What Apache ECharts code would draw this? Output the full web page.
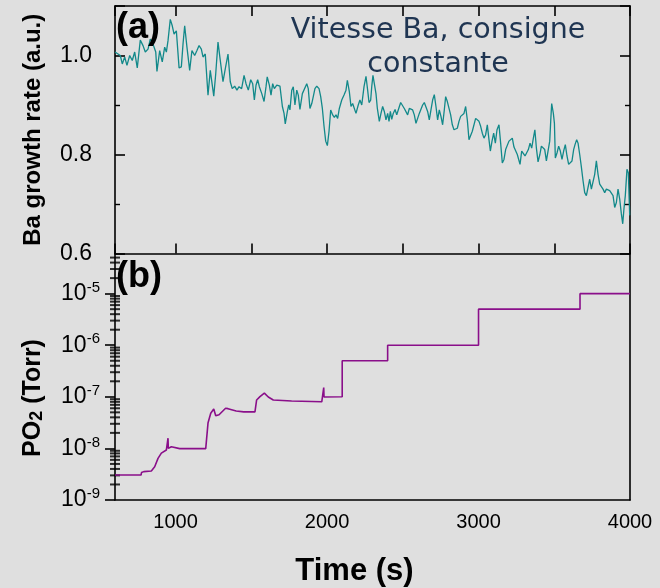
<!DOCTYPE html>
<html>
<head>
<meta charset="utf-8">
<script src="https://cdn.jsdelivr.net/npm/echarts@6/dist/echarts.min.js"></script>
<style>
  html, body { margin: 0; padding: 0; background: #dfdfdf; }
  #chart { width: 660px; height: 588px; }
</style>
</head>
<body>
<div id="chart"></div>
<script>
// Ba growth rate (a.u.) versus time (s)
const growthRate = [
  [600,1.007],[620,1.003],[635,1.0],[648,0.983],[664,0.997],[679,0.98],[697,1.0],[714,0.99],[730,1.007],[747,0.975],
  [767,1.031],[785,1.02],[800,1.007],[818,1.013],[833,1.033],[851,1.023],[869,1.007],[877,0.968],[895,1.01],[912,0.987],
  [928,1.017],[939,1.007],[950,1.03],[965,1.073],[978,1.06],[990,1.043],[1005,1.05],[1023,0.975],[1038,0.977],[1049,1.023],
  [1060,1.06],[1075,1.017],[1093,0.97],[1108,1.01],[1126,1.0],[1141,1.01],[1155,1.02],[1170,1.013],[1181,0.997],[1196,1.003],
  [1214,0.92],[1229,0.97],[1240,0.971],[1252,0.918],[1265,0.963],[1280,1.027],[1295,0.99],[1313,0.947],[1328,0.973],[1346,1.003],
  [1361,0.947],[1374,0.933],[1390,0.938],[1405,0.93],[1419,0.937],[1436,0.933],[1452,0.96],[1465,0.943],[1480,0.93],[1496,0.951],
  [1509,0.943],[1520,0.91],[1531,0.94],[1542,0.951],[1553,0.937],[1569,0.923],[1584,0.907],[1597,0.937],[1605,0.957],[1619,0.94],
  [1630,0.92],[1641,0.943],[1652,0.933],[1668,0.94],[1678,0.937],[1689,0.938],[1705,0.897],[1716,0.883],[1724,0.862],[1738,0.887],
  [1747,0.9],[1755,0.89],[1767,0.93],[1777,0.937],[1788,0.9],[1800,0.93],[1810,0.92],[1821,0.891],[1837,0.923],[1850,0.927],
  [1866,0.943],[1876,0.933],[1887,0.893],[1899,0.903],[1909,0.917],[1920,0.933],[1932,0.938],[1947,0.933],[1958,0.917],[1969,0.893],
  [1980,0.857],[1991,0.827],[2002,0.818],[2013,0.847],[2024,0.89],[2037,0.88],[2048,0.875],[2059,0.88],[2070,0.873],[2081,0.893],
  [2097,0.91],[2112,0.92],[2125,0.93],[2134,0.95],[2147,0.927],[2158,0.897],[2169,0.903],[2180,0.9],[2191,0.883],[2206,0.9],
  [2217,0.91],[2229,0.9],[2244,0.937],[2257,0.958],[2268,0.93],[2277,0.905],[2288,0.91],[2295,0.937],[2303,0.96],[2312,0.943],
  [2323,0.923],[2332,0.893],[2345,0.867],[2356,0.883],[2367,0.897],[2378,0.887],[2389,0.87],[2400,0.883],[2409,0.867],[2418,0.887],
  [2427,0.871],[2437,0.883],[2449,0.891],[2460,0.88],[2470,0.89],[2486,0.905],[2499,0.903],[2510,0.893],[2521,0.89],[2532,0.88],
  [2543,0.893],[2554,0.897],[2565,0.89],[2576,0.88],[2587,0.863],[2598,0.873],[2609,0.883],[2620,0.887],[2631,0.9],[2642,0.905],
  [2653,0.903],[2664,0.887],[2675,0.87],[2686,0.89],[2697,0.91],[2708,0.921],[2719,0.897],[2730,0.87],[2741,0.89],[2752,0.877],
  [2763,0.86],[2774,0.89],[2783,0.917],[2794,0.907],[2805,0.91],[2816,0.88],[2827,0.86],[2838,0.85],[2849,0.853],[2860,0.853],
  [2871,0.867],[2882,0.877],[2893,0.873],[2904,0.883],[2915,0.897],[2926,0.87],[2937,0.83],[2948,0.833],[2959,0.847],[2970,0.845],
  [2981,0.873],[2992,0.877],[3003,0.867],[3014,0.857],[3025,0.843],[3036,0.833],[3047,0.84],[3058,0.86],[3069,0.83],[3078,0.807],
  [3089,0.827],[3100,0.843],[3111,0.823],[3122,0.85],[3135,0.86],[3146,0.823],[3157,0.783],[3168,0.79],[3179,0.81],[3190,0.813],
  [3201,0.827],[3212,0.83],[3223,0.833],[3234,0.815],[3245,0.813],[3256,0.8],[3267,0.797],[3274,0.78],[3285,0.807],[3296,0.81],
  [3307,0.797],[3318,0.8],[3329,0.81],[3340,0.823],[3351,0.813],[3362,0.833],[3372,0.85],[3382,0.813],[3393,0.785],[3405,0.8],
  [3415,0.817],[3426,0.813],[3437,0.81],[3448,0.787],[3459,0.79],[3470,0.827],[3477,0.87],[3483,0.903],[3494,0.883],[3501,0.863],
  [3507,0.793],[3518,0.803],[3529,0.817],[3540,0.807],[3551,0.79],[3562,0.807],[3573,0.82],[3584,0.797],[3595,0.78],[3606,0.777],
  [3617,0.787],[3628,0.81],[3637,0.82],[3648,0.83],[3657,0.823],[3668,0.8],[3678,0.777],[3690,0.747],[3701,0.723],[3712,0.717],
  [3723,0.72],[3734,0.75],[3745,0.73],[3756,0.727],[3767,0.76],[3778,0.787],[3789,0.76],[3800,0.74],[3811,0.743],[3822,0.73],
  [3833,0.723],[3844,0.73],[3855,0.731],[3866,0.727],[3877,0.731],[3888,0.717],[3899,0.693],[3910,0.703],[3921,0.73],[3932,0.71],
  [3943,0.68],[3952,0.66],[3960,0.69],[3969,0.717],[3980,0.77],[3989,0.763],[3998,0.677]
];

// Oxygen partial pressure PO2 (Torr) versus time (s)
const oxygenPressure = [
  [600,3.05e-9],[772,3.05e-9],[775,3.4e-9],[790,3.55e-9],[840,3.65e-9],[862,4.4e-9],[884,6.4e-9],[906,8.1e-9],
  [939,9.3e-9],[948,9.6e-9],[950,1.58e-8],[952,1.0e-8],[972,1.08e-8],[1027,9.9e-9],[1199,9.9e-9],[1214,3.1e-8],
  [1232,4.8e-8],[1252,5.8e-8],[1265,4.3e-8],[1287,4.5e-8],[1330,6.0e-8],[1346,5.9e-8],[1400,5.3e-8],[1450,5.1e-8],
  [1524,5.1e-8],[1535,8.7e-8],[1557,1.01e-7],[1586,1.18e-7],[1612,9.9e-8],[1645,8.7e-8],[1766,8.3e-8],[1965,8.0e-8],
  [1976,8.0e-8],[1978,1.51e-7],[1980,9.9e-8],[2100,1e-7],[2100,5e-7],[2400,5e-7],[2400,1e-6],[3000,1e-6],
  [3000,5e-6],[3670,5e-6],[3670,1e-5],[4000,1e-5]
];

const timeRange = [600, 4000];
const rateRange = [0.6, 1.1];
const pressureRange = [1e-9, 6e-5];
const pressureDecades = [-9, -8, -7, -6, -5];
const logMinorSteps = [2, 3, 4, 5, 6, 7, 8, 9];

// minor ticks of the logarithmic pressure axis (2..9 in every decade), placed on the left axis line
const pressureMinorTicks = [];
pressureDecades.forEach(e => {
  logMinorSteps.forEach(m => {
    const v = m * Math.pow(10, e);
    if (v > pressureRange[0] && v < pressureRange[1]) pressureMinorTicks.push([timeRange[0], v]);
  });
});

const FONT = '"Liberation Sans", Arial, sans-serif';
const axisLine = { show: true, onZero: false, lineStyle: { color: '#000', width: 1.6 } };

const chart = echarts.init(document.getElementById('chart'), null, { renderer: 'canvas' });

chart.setOption({
  backgroundColor: '#dfdfdf',
  animation: false,
  textStyle: { fontFamily: FONT, color: '#000' },
  grid: [
    { left: 115, right: 30, top: 6, height: 247.5 },
    { left: 115, right: 30, top: 253.5, height: 246.5 }
  ],
  xAxis: [
    { gridIndex: 0, type: 'value', position: 'bottom', min: timeRange[0], max: timeRange[1], splitNumber: 5,
      axisLine, axisTick: { inside: true, length: 10, lineStyle: { color: '#000', width: 1.6 } },
      axisLabel: { show: false }, splitLine: { show: false } },
    { gridIndex: 0, type: 'value', position: 'top', min: timeRange[0], max: timeRange[1], splitNumber: 5,
      axisLine, axisTick: { inside: true, length: 10, lineStyle: { color: '#000', width: 1.6 } },
      axisLabel: { show: false }, splitLine: { show: false } },
    { gridIndex: 1, type: 'value', position: 'bottom', min: timeRange[0], max: timeRange[1], splitNumber: 3,
      axisLine, axisTick: { show: false },
      axisLabel: { fontSize: 20, color: '#000', margin: 12, showMinLabel: false, fontFamily: FONT,
        formatter: v => String(Math.round(v)) },
      splitLine: { show: false },
      name: 'Time (s)', nameLocation: 'middle', nameGap: 56,
      nameTextStyle: { fontSize: 31, fontWeight: 'bold', color: '#000', fontFamily: FONT, padding: [0, 36, 0, 0] } }
  ],
  yAxis: [
    { gridIndex: 0, type: 'value', position: 'left', min: rateRange[0], max: rateRange[1], interval: 0.2,
      axisLine, axisTick: { inside: true, length: 10, lineStyle: { color: '#000', width: 1.6 } },
      minorTick: { show: true, splitNumber: 2, length: 5, lineStyle: { color: '#000', width: 1.4 } },
      axisLabel: { fontSize: 23, color: '#000', margin: 23, showMaxLabel: false, fontFamily: FONT,
        formatter: v => v.toFixed(1) },
      splitLine: { show: false },
      name: 'Ba growth rate (a.u.)', nameLocation: 'middle', nameGap: 70,
      nameTextStyle: { fontSize: 24, fontWeight: 'bold', color: '#000', fontFamily: FONT } },
    { gridIndex: 0, type: 'value', position: 'right', min: rateRange[0], max: rateRange[1], interval: 0.2,
      axisLine, axisTick: { inside: true, length: 10, lineStyle: { color: '#000', width: 1.6 } },
      minorTick: { show: true, splitNumber: 2, length: 5, lineStyle: { color: '#000', width: 1.4 } },
      axisLabel: { show: false }, splitLine: { show: false } },
    { gridIndex: 1, type: 'log', logBase: 10, position: 'left', min: pressureRange[0], max: pressureRange[1],
      axisLine, axisTick: { inside: false, length: 10, lineStyle: { color: '#000', width: 1.6 } },
      axisLabel: { margin: 15, showMaxLabel: false, color: '#000',
        formatter: v => '{b|10}{e|' + Math.round(Math.log10(v)) + '}',
        rich: {
          b: { fontSize: 23, fontFamily: FONT, color: '#000' },
          e: { fontSize: 15, fontFamily: FONT, color: '#000', padding: [0, 0, 12, 0] }
        } },
      splitLine: { show: false } },
    { gridIndex: 1, type: 'log', logBase: 10, position: 'right', min: pressureRange[0], max: pressureRange[1],
      axisLine, axisTick: { show: false }, axisLabel: { show: false }, splitLine: { show: false } }
  ],
  series: [
    { type: 'line', xAxisIndex: 0, yAxisIndex: 0, data: growthRate, showSymbol: false,
      lineStyle: { color: '#12898a', width: 1.3 }, z: 3 },
    { type: 'line', xAxisIndex: 2, yAxisIndex: 2, data: oxygenPressure, showSymbol: false,
      lineStyle: { color: '#8a0f8a', width: 1.6 }, z: 3 },
    // short marks on the left axis line for the log minor ticks
    { type: 'scatter', xAxisIndex: 2, yAxisIndex: 2, data: pressureMinorTicks, clip: false,
      symbol: 'rect', symbolSize: [10, 2], itemStyle: { color: '#000' } }
  ],
  graphic: [
    { type: 'text', left: 116, top: 10, z: 10,
      style: { text: '(a)', font: 'bold 36px ' + FONT, fill: '#000' } },
    { type: 'text', left: 116, top: 259, z: 10,
      style: { text: '(b)', font: 'bold 36px ' + FONT, fill: '#000' } },
    { type: 'text', x: 438, y: 14, z: 10,
      style: { text: 'Vitesse Ba, consigne\nconstante', font: '28.5px "DejaVu Sans", sans-serif',
        fill: '#1f3552', align: 'center', verticalAlign: 'top', lineHeight: 34 } },
    { type: 'text', x: 33, y: 398, rotation: Math.PI / 2, z: 10,
      style: { text: '{t|PO}{s|2}{t| (Torr)}', align: 'center', verticalAlign: 'middle',
        rich: {
          t: { fontSize: 25, fontWeight: 'bold', fontFamily: FONT, fill: '#000' },
          s: { fontSize: 18, fontWeight: 'bold', fontFamily: FONT, fill: '#000', padding: [9, 0, 0, 0] }
        } } }
  ]
});
</script>
</body>
</html>
